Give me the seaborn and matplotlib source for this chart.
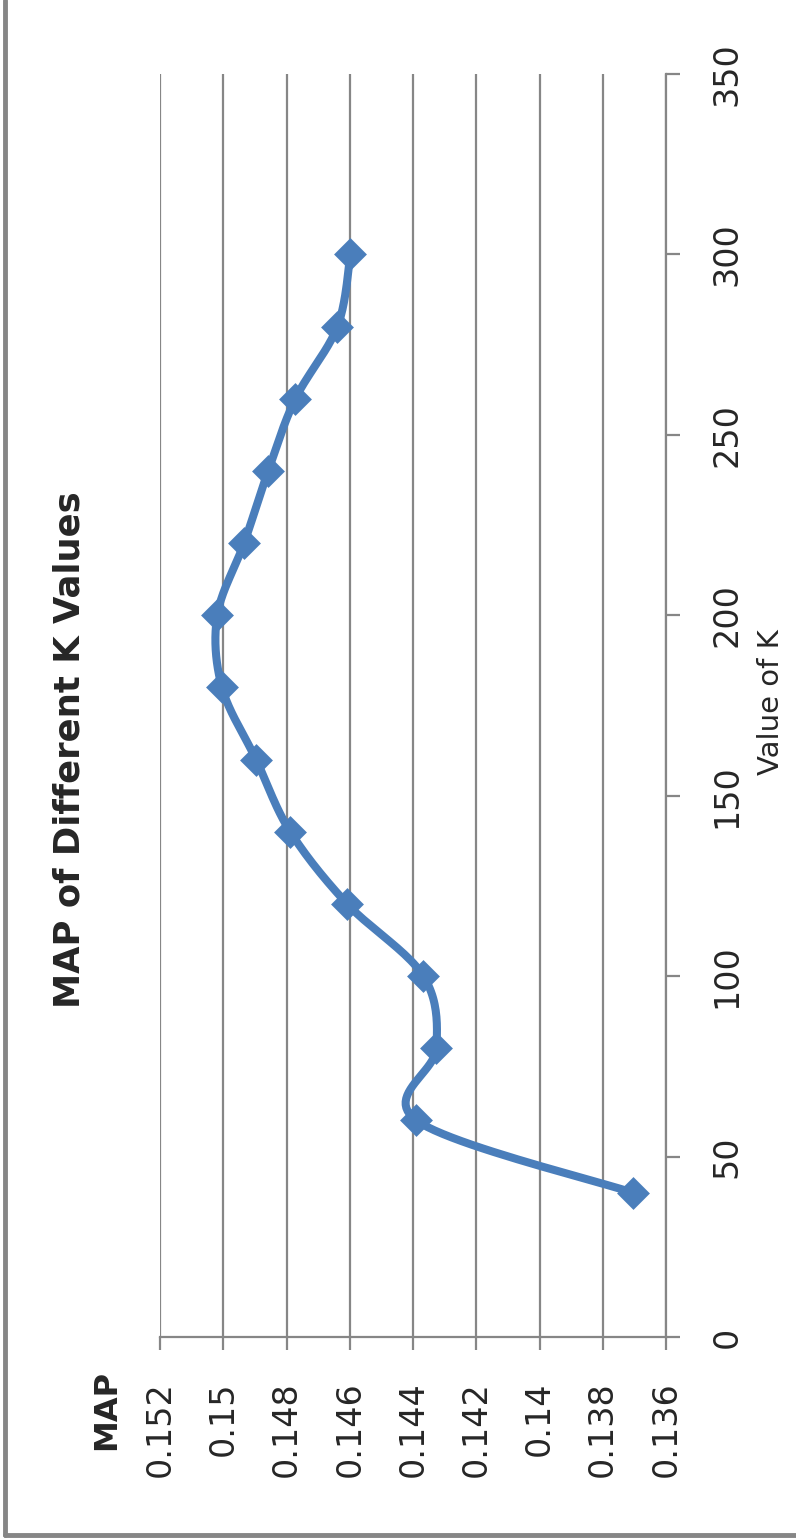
import numpy as np
import pandas as pd
import matplotlib
matplotlib.use("Agg")
import matplotlib.pyplot as plt
from matplotlib.lines import Line2D
import seaborn as sns

# values (K on the long axis, MAP across)
k_values = [40, 60, 80, 100, 120, 140, 160, 180, 200, 220, 240, 260, 280, 300]
map_values = [0.13705, 0.14389, 0.14326, 0.14367, 0.14608, 0.14788, 0.14896,
              0.15004, 0.15019, 0.14934, 0.14858, 0.14772, 0.14639, 0.14598]
map_ticks = [0.152, 0.15, 0.148, 0.146, 0.144, 0.142, 0.14, 0.138, 0.136]
map_tick_labels = ["0.152", "0.15", "0.148", "0.146", "0.144", "0.142", "0.14", "0.138", "0.136"]
k_ticks = [0, 50, 100, 150, 200, 250, 300, 350]

line_blue = "#4a7ebb"
grid_grey = "#868686"


def smooth_curve(xs, ys, sx, sy, steps=24):
    # excel-style smoothed line (catmull-rom), done in screen-ish units
    p = np.column_stack([np.asarray(xs) * sx, np.asarray(ys) * sy])
    p = np.vstack([p[0], p, p[-1]])
    out = []
    for i in range(1, len(p) - 2):
        p0, p1, p2, p3 = p[i - 1], p[i], p[i + 1], p[i + 2]
        t = np.linspace(0, 1, steps)[:, None]
        seg = 0.5 * ((2 * p1) + (-p0 + p2) * t + (2 * p0 - 5 * p1 + 4 * p2 - p3) * t ** 2
                     + (-p0 + 3 * p1 - 3 * p2 + p3) * t ** 3)
        out.append(seg)
    out = np.vstack(out)
    return out[:, 0] / sx, out[:, 1] / sy


sns.set_style("white")
plt.rcParams["font.family"] = ["DejaVu Sans"]

fig = plt.figure(figsize=(7.96, 15.39), dpi=100)
ax = fig.add_axes([160 / 796, 1 - 1337 / 1539, 506 / 796, 1263 / 1539])

# pixel scales so the smoothing happens in drawing space
sx = 506 / 0.016
sy = 1263 / 350
cx, cy = smooth_curve(map_values, k_values, sx, sy)
curve = pd.DataFrame({"MAP": cx, "K": cy})
points = pd.DataFrame({"MAP": map_values, "K": k_values})

sns.lineplot(data=curve, x="MAP", y="K", sort=False, estimator=None,
             color=line_blue, linewidth=5.8, ax=ax, zorder=3)
sns.scatterplot(data=points, x="MAP", y="K", marker="D", s=280,
                color=line_blue, edgecolor=line_blue, linewidth=0, ax=ax, zorder=4)

ax.set_xlim(0.152, 0.136)
ax.set_ylim(0, 350)
ax.set_xticks(map_ticks)
ax.set_xticklabels(map_tick_labels)
ax.set_yticks(k_ticks)
ax.yaxis.tick_right()
ax.set_xlabel("")
ax.set_ylabel("")

ax.grid(axis="x", color=grid_grey, linewidth=1.6)
ax.grid(axis="y", visible=False)
for side in ["top", "left"]:
    ax.spines[side].set_visible(False)
for side in ["bottom", "right"]:
    ax.spines[side].set_color(grid_grey)
    ax.spines[side].set_linewidth(1.6)

ax.tick_params(axis="x", direction="out", length=9, width=1.6, color=grid_grey,
               pad=23, labelsize=24, labelrotation=90, bottom=True)
ax.tick_params(axis="y", direction="out", length=10, width=1.6, color=grid_grey,
               pad=22, labelsize=24, labelrotation=90, right=True, left=False)
for lab in ax.get_xticklabels():
    lab.set_va("top")
    lab.set_ha("center")
for lab in ax.get_yticklabels():
    lab.set_va("center")
    lab.set_ha("left")

fig.text(70 / 796, 1 - 750 / 1539, "MAP of Different K Values", rotation=90,
         ha="center", va="center", fontsize=25.5, fontweight="bold")
fig.text(771 / 796, 1 - 702 / 1539, "Value of K", rotation=90,
         ha="center", va="center", fontsize=21)
fig.text(107 / 796, 1 - 1410 / 1539, "MAP", rotation=90,
         ha="center", va="center", fontsize=23, fontweight="bold")

# outer chart frame (left and bottom edges are visible)
fig.add_artist(Line2D([5 / 796, 5 / 796], [1, 1 - 1535 / 1539], transform=fig.transFigure,
                      color=grid_grey, linewidth=3.5))
fig.add_artist(Line2D([5 / 796, 1], [1 - 1535 / 1539, 1 - 1535 / 1539], transform=fig.transFigure,
                      color=grid_grey, linewidth=3.5))

fig.savefig("out.png", dpi=100)
